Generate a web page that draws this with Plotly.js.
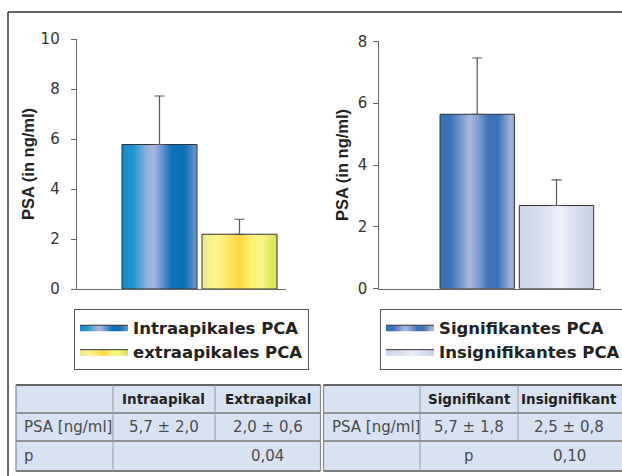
<!DOCTYPE html>
<html>
<head>
<meta charset="utf-8">
<script src="https://cdn.plot.ly/plotly-3.0.1.min.js"></script>
<style>html,body{margin:0;padding:0;background:#fff;}#chart{width:622px;height:476px;}</style>
</head>
<body>
<div id="chart"></div>
<script>
// ---- data ----
const leftNames = ['Intraapikales PCA', 'extraapikales PCA'];
const leftValues = [5.78, 2.19];
const leftErrors = [1.94, 0.60];
const rightNames = ['Signifikantes PCA', 'Insignifikantes PCA'];
const rightValues = [5.64, 2.69];
const rightErrors = [1.82, 0.83];
const yTitle = 'PSA (in ng/ml)';

const leftTableHeader = ['', 'Intraapikal', 'Extraapikal'];
const leftTableRow1 = ['PSA [ng/ml]', '5,7 ± 2,0', '2,0 ± 0,6'];
const leftTableRow2 = ['p', '0,04'];
const rightTableHeader = ['', 'Signifikant', 'Insignifikant'];
const rightTableRow1 = ['PSA [ng/ml]', '5,7 ± 1,8', '2,5 ± 0,8'];
const rightTableRow2 = ['p', '0,10'];

// ---- styles ----
const W = 622, H = 476;
const px = x => x / W;
const py = y => 1 - y / H;
const barPos = [1, 2];
const barWidth = 0.9375;
const scales = [
  [[0,'#1a86c6'],[0.15,'#1f96d2'],[0.33,'#8fb0da'],[0.42,'#a6b8de'],[0.55,'#5d8fcc'],[0.66,'#0d74bd'],[0.82,'#0a6fb7'],[1,'#6a98d0']],
  [[0,'#ece88c'],[0.2,'#fff588'],[0.35,'#ffe668'],[0.5,'#ffd640'],[0.65,'#fff070'],[0.8,'#f8f486'],[1,'#d8e050']],
  [[0,'#3a70b4'],[0.15,'#3d74b8'],[0.3,'#7f9ed0'],[0.4,'#a9badf'],[0.52,'#7e9ccf'],[0.65,'#3d74b8'],[0.78,'#3c72b6'],[0.95,'#a0b2da'],[1,'#98acd6']],
  [[0,'#cdd5ea'],[0.3,'#d9dfef'],[0.55,'#eef0f8'],[0.8,'#d6dcee'],[1,'#c6cee6']]
];

const traces = [];
function addBars(names, values, errors, xa, ya, legendId, scaleOffset) {
  values.forEach((v, i) => {
    const c = barPos[i], h = barWidth / 2;
    traces.push({
      type: 'scatter', mode: 'lines', xaxis: xa, yaxis: ya,
      x: [c - h, c - h, c + h, c + h, c - h],
      y: [0, v, v, 0, 0],
      fill: 'toself',
      fillgradient: {type: 'horizontal', colorscale: scales[scaleOffset + i]},
      line: {color: '#333', width: 1},
      name: '<b>' + names[i] + '</b>',
      legend: legendId, showlegend: true, hoverinfo: 'skip'
    });
  });
  traces.push({
    type: 'scatter', mode: 'markers', xaxis: xa, yaxis: ya,
    x: barPos.slice(0, values.length), y: values,
    marker: {size: 1, opacity: 0},
    error_y: {type: 'data', symmetric: false, array: errors, arrayminus: errors.map(() => 0),
              color: '#555', thickness: 1.2, width: 5},
    showlegend: false, hoverinfo: 'skip'
  });
}
addBars(leftNames, leftValues, leftErrors, 'x', 'y', 'legend', 0);
addBars(rightNames, rightValues, rightErrors, 'x2', 'y2', 'legend2', 2);

const tickFont = {family: 'DejaVu Sans', size: 15, color: '#333'};
const titleFont = {family: 'Liberation Sans, Arial', size: 16.5, color: '#222', weight: 'bold'};
function yAxis(range, dtick, domain, anchor, standoff, labelOff) {
  return {
    domain: domain, range: range, dtick: dtick, anchor: anchor,
    showline: true, linecolor: '#666', linewidth: 1,
    ticks: 'outside', ticklen: 5, tickcolor: '#666', tickwidth: 1,
    showgrid: false, zeroline: false, tickfont: tickFont,
    ticklabelstandoff: labelOff,
    title: {text: '<b>' + yTitle + '</b>', font: titleFont, standoff: standoff}
  };
}
function xAxis(range, domain, anchor) {
  return {
    domain: domain, range: range, anchor: anchor,
    showline: true, linecolor: '#666', linewidth: 1,
    showticklabels: false, ticks: '', showgrid: false, zeroline: false
  };
}

// ---- table shapes & annotations ----
const shapes = [];
const annotations = [];
const rowsY = [385, 413, 441, 471];
const line = (x0, y0, x1, y1, color, width) => shapes.push({
  type: 'line', xref: 'paper', yref: 'paper', x0: px(x0), y0: py(y0), x1: px(x1), y1: py(y1),
  line: {color: color, width: width}
});
const bg = (x0, y0, x1, y1, color) => shapes.push({
  type: 'rect', xref: 'paper', yref: 'paper', x0: px(x0), y0: py(y0), x1: px(x1), y1: py(y1),
  fillcolor: color, line: {width: 0}, layer: 'below'
});
const txt = (text, x, y, anchor, bold) => annotations.push({
  xref: 'paper', yref: 'paper', x: px(x), y: py(y), xanchor: anchor, yanchor: 'middle',
  text: bold ? '<b>' + text + '</b>' : text, showarrow: false,
  font: {family: 'DejaVu Sans', size: bold ? 13.5 : 15, color: bold ? '#222' : '#4a4a4a'}
});

function table(x0, x1, c1, c2, m2, header, row1, row2, pCentered) {
  bg(x0, rowsY[0], x1, rowsY[3], '#d9e2f3');
  line(x0, rowsY[0], x1, rowsY[0], '#666', 2);
  line(x0, rowsY[1], x1, rowsY[1], '#777', 1.5);
  line(x0, rowsY[2], x1, rowsY[2], '#777', 1.5);
  line(x0, rowsY[3], x1, rowsY[3], '#555', 1.5);
  line(x0, rowsY[0], x0, rowsY[3], '#888', 1.2);
  line(x1, rowsY[0], x1, rowsY[3], '#888', 1.2);
  line(c1, rowsY[0], c1, rowsY[3], '#999', 1);
  line(c2, rowsY[0], c2, rowsY[2], '#999', 1);
  const m1 = (c1 + c2) / 2;
  const ym = [399, 427, 456];
  txt(header[1], m1, ym[0], 'center', true);
  txt(header[2], m2, ym[0], 'center', true);
  txt(row1[0], x0 + 6, ym[1], 'left', false);
  txt(row1[1], m1, ym[1], 'center', false);
  txt(row1[2], m2, ym[1], 'center', false);
  if (pCentered) {
    txt(row2[0], m1, ym[2], 'center', false);
  } else {
    txt(row2[0], x0 + 6, ym[2], 'left', false);
  }
  txt(row2[1], m2, ym[2], 'center', false);
}
table(16, 320.5, 113, 215, 267.5, leftTableHeader, leftTableRow1, leftTableRow2, false);
table(323.5, 630, 420, 518, 569, rightTableHeader, rightTableRow1, rightTableRow2, true);

// outer frame
line(8, 12, 630, 12, '#333', 1.5);
line(8, 12, 8, 480, '#333', 1.5);

const legendFont = {family: 'DejaVu Sans', size: 16.5, color: '#222'};
const layout = {
  width: W, height: H,
  margin: {l: 0, r: 0, t: 0, b: 0, autoexpand: false},
  paper_bgcolor: '#fff', plot_bgcolor: 'rgba(0,0,0,0)',
  xaxis: xAxis([-0.035, 2.581], [px(76.7), px(286)], 'y'),
  yaxis: yAxis([0, 10], 2, [py(289), py(39)], 'x', 1, 8),
  xaxis2: xAxis([-0.2346, 2.561], [px(379.3), px(601)], 'y2'),
  yaxis2: yAxis([0, 8], 2, [py(288.7), py(41.3)], 'x2', 4, 3),
  legend: {x: px(74), y: py(309), xanchor: 'left', yanchor: 'top', bordercolor: '#555', borderwidth: 1,
           bgcolor: '#fff', font: legendFont, itemwidth: 48, tracegroupgap: 0},
  legend2: {x: px(380), y: py(309), xanchor: 'left', yanchor: 'top', bordercolor: '#555', borderwidth: 1,
            bgcolor: '#fff', font: legendFont, itemwidth: 48, tracegroupgap: 0},
  shapes: shapes,
  annotations: annotations,
  showlegend: true
};

Plotly.newPlot('chart', traces, layout, {displayModeBar: false, staticPlot: true});
</script>
</body>
</html>
